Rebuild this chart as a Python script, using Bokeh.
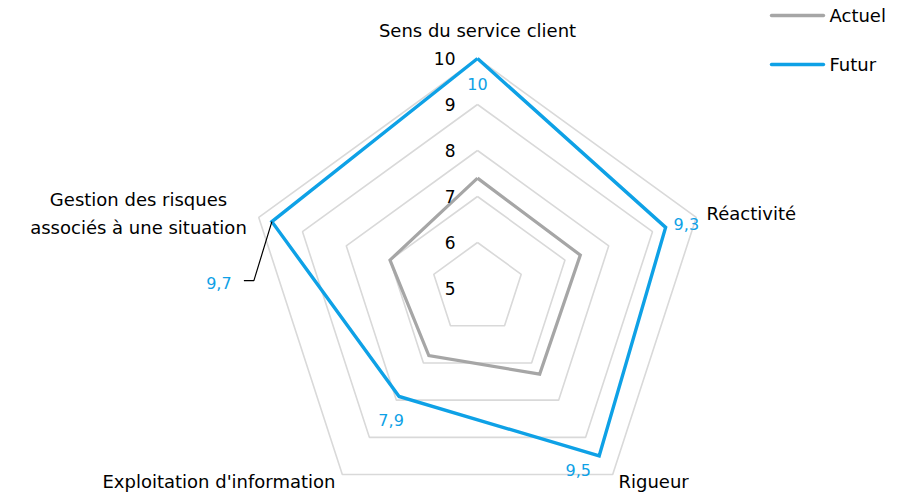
import numpy as np
from bokeh.plotting import figure
from bokeh.models import Range1d
from bokeh.core.properties import value
from bokeh.embed import file_html
from bokeh.resources import INLINE

categories = ["Sens du service client", "Réactivité", "Rigueur",
              "Exploitation d'information", "Gestion des risques\nassociés à une situation"]
actuel = [7.4, 7.35, 7.3, 6.8, 7.0]
futur = [10, 9.3, 9.5, 7.9, 9.7]
futur_labels = ["10", "9,3", "9,5", "7,9", "9,7"]
ticks = [5, 6, 7, 8, 9, 10]
rmin = 5

FONT = "DejaVu Sans"
GREY = "#a6a6a6"
BLUE = "#0ea1e6"
GRID = "#d9d9d9"

# pixel geometry (picture coords): centre and px per unit
CX, CY, S = 477.0, 288.0, 46.0
W, H = 899, 493

def px(x, y):
    return ((x - CX) / S, (CY - y) / S)

n = len(categories)
ang = np.pi / 2 - np.arange(n) * 2 * np.pi / n

def polar(vals):
    r = np.array(vals, dtype=float) - rmin
    return list(r * np.cos(ang)), list(r * np.sin(ang))

x0, y1 = px(0, 0)
x1, y0 = px(W, H)
p = figure(width=W, height=H, output_backend="svg", toolbar_location=None,
           x_range=Range1d(x0, x1), y_range=Range1d(y0, y1), min_border=0)
p.axis.visible = False
p.grid.visible = False
p.outline_line_color = None
p.background_fill_color = "white"

# grid pentagons
for t in ticks[1:]:
    gx, gy = polar([t] * n)
    p.line(gx + gx[:1], gy + gy[:1], line_color=GRID, line_width=1.6)

# series
ax, ay = polar(actuel)
p.line(ax + ax[:1], ay + ay[:1], line_color=GREY, line_width=3.2, line_join="miter")
fx, fy = polar(futur)
p.line(fx + fx[:1], fy + fy[:1], line_color=BLUE, line_width=3.4, line_join="miter")

# tick labels
tx = [px(455, 0)[0]] * len(ticks)
ty = [t - rmin for t in ticks]
p.text(tx, ty, text=[str(t) for t in ticks], text_align="right", text_baseline="middle",
       text_font=value(FONT), text_font_size="17px", text_color="#000000")

# data labels (pixel offsets from each point)
offs = [(0, 25, "center"), (8, -3, "left"), (-21, 14, "center"), (-8, 24, "center"), (-53, 61, "center")]
for i, (dx, dy, al) in enumerate(offs):
    lx = fx[i] + dx / S
    ly = fy[i] - dy / S
    p.text([lx], [ly], text=[futur_labels[i]], text_align=al, text_baseline="middle",
           text_font=value(FONT), text_font_size="16px", text_color=BLUE)

# leader line for last label
lx0, ly0 = fx[4], fy[4]
p.line([lx0, lx0 - 18 / S, lx0 - 28 / S], [ly0, ly0 - 59 / S, ly0 - 59 / S],
       line_color="#000000", line_width=1.2)

# category labels
cat_pos = [(477, 30, "center"), (706, 213, "left"), (618, 481, "left"), (335, 481, "right"), (138, 199, "center")]
for i, (x, y, al) in enumerate(cat_pos):
    lines = categories[i].split("\n")
    for k, line in enumerate(lines):
        cx, cy = px(x, y + 28 * k)
        p.text([cx], [cy], text=[line], text_align=al, text_baseline="middle",
               text_font=value(FONT), text_font_size="18px", text_color="#000000")

# legend
legend = [("Actuel", GREY, 15), ("Futur", BLUE, 64)]
for name, col, yy in legend:
    a = px(771, yy); b = px(823, yy); c = px(829, yy)
    p.line([a[0], b[0]], [a[1], b[1]], line_color=col, line_width=3.4, line_cap="round")
    p.text([c[0]], [c[1]], text=[name], text_align="left", text_baseline="middle",
           text_font=value(FONT), text_font_size="18px", text_color="#000000")

open("out.html", "w").write(file_html(p, INLINE))
